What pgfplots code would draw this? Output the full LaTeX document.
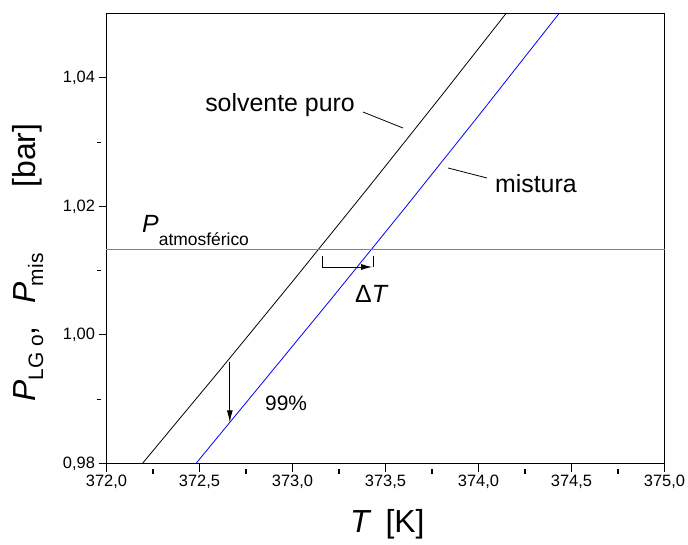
\documentclass[border=0pt]{standalone}
\usepackage{fontspec}
\setmainfont{Liberation Sans}
\usepackage[rgb]{xcolor}
\usepackage{pgfplots}
\pgfplotsset{compat=1.18}
\usetikzlibrary{arrows.meta}
\definecolor{atmred}{rgb}{1,0.3,0.3}
\begin{document}
\begin{tikzpicture}
\path[use as bounding box] (-106.5bp,-81.5bp) rectangle (581.5bp,463.5bp);
\begin{axis}[
  at={(0,0)}, anchor=south west,
  scale only axis, width=558bp, height=450bp,
  xmin=372, xmax=375, ymin=0.98, ymax=1.05,
  xtick={372,372.5,...,375}, ytick={0.98,1.00,1.02,1.04},
  minor xtick={372.25,372.75,...,374.75},
  minor ytick={0.99,1.01,1.03},
  scaled ticks=false,
  tick align=outside, xtick pos=lower, ytick pos=left,
  major tick length=8bp, minor tick length=5bp,
  minor x tick style={yshift=-5bp},
  minor y tick style={xshift=-5bp},
  axis line style={line width=1.3bp},
  major tick style={black, line width=1.1bp},
  minor tick style={black, line width=1.1bp},
  /pgf/number format/use comma,
  /pgf/number format/assume math mode=true,
  x tick label style={/pgf/number format/.cd, fixed, fixed zerofill, precision=1},
  y tick label style={/pgf/number format/.cd, fixed, fixed zerofill, precision=2},
  tick label style={font=\fontsize{16.5}{16.5}\selectfont},
  clip=false,
]
% solvente puro
\addplot[black, line width=0.8bp] coordinates {
 (372.193,0.98) (372.6,0.99418) (373.0,1.00831) (373.4,1.02264) (373.8,1.03718) (374.148,1.05)};
% mistura
\addplot[blue, line width=0.8bp] coordinates {
 (372.481,0.98) (372.8,0.99121) (373.2,1.00530) (373.6,1.01959) (374.0,1.03408) (374.433,1.05)};
% P atmosferico
\addplot[atmred, line width=1.2bp, mark=none] coordinates {(372,1.01325) (375,1.01325)};

% leaders
\addplot[black, line width=0.8bp] coordinates {(373.379,1.03468) (373.594,1.03219)};
\addplot[black, line width=0.8bp] coordinates {(373.836,1.02597) (374.046,1.02441)};
% Delta T bracket
\addplot[black, line width=0.9bp] coordinates {(373.433,1.01228) (373.433,1.01057)};
\addplot[black, line width=0.9bp, -{Latex[length=11bp,width=6bp]}] coordinates {(373.159,1.01228) (373.159,1.01057) (373.428,1.01057)};
% 99% arrow
\addplot[black, line width=0.9bp, -{Latex[length=12bp,width=6bp]}] coordinates {(372.663,0.99585) (372.663,0.98640)};

\node[anchor=base west, inner sep=0pt, font=\fontsize{25}{25}\selectfont] at (axis cs:372.530,1.03468) {solvente puro};
\node[anchor=base west, inner sep=0pt, font=\fontsize{25}{25}\selectfont] at (axis cs:374.088,1.02208) {mistura};
\node[anchor=base west, inner sep=0pt, font=\fontsize{25}{25}\selectfont] at (axis cs:372.191,1.01601) {\textit{P}\raisebox{-13bp}{\fontsize{17.5}{17.5}\selectfont atmosférico}};
\node[anchor=base west, inner sep=0pt, font=\fontsize{25}{25}\selectfont] at (axis cs:373.336,1.00497) {Δ\textit{T}};
\node[anchor=base west, inner sep=0pt, font=\fontsize{21}{21}\selectfont] at (axis cs:372.852,0.98817) {99\%};

\node[anchor=base west, inner sep=0pt, font=\fontsize{32}{32}\selectfont] at (axis cs:373.309,0.96919) {\textit{T}\hspace{14bp}[K]};
\node[anchor=base west, inner sep=0pt, rotate=90, font=\fontsize{32}{32}\selectfont] at (axis cs:371.616,0.98957) {\textit{P}\raisebox{-8bp}{\fontsize{21}{21}\selectfont LG o},\hspace{23bp}\textit{P}\hspace{-4bp}\raisebox{-8bp}{\fontsize{21}{21}\selectfont mis}\hspace{66bp}[bar]};
\end{axis}
\end{tikzpicture}
\end{document}
